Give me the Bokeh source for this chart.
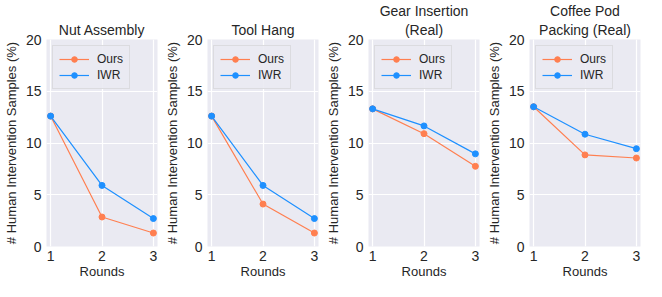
from bokeh.plotting import figure
from bokeh.layouts import row
from bokeh.models import Range1d, FixedTicker, Legend, LegendItem, Title
from bokeh.embed import file_html
from bokeh.resources import INLINE

rounds = [1, 2, 3]
titles = [["", "Nut Assembly"], ["", "Tool Hang"],
          ["Gear Insertion", "(Real)"], ["Coffee Pod", "Packing (Real)"]]
ours = [
    [12.6, 2.85, 1.3],
    [12.6, 4.1, 1.3],
    [13.3, 10.9, 7.75],
    [13.5, 8.85, 8.55],
]
iwr = [
    [12.6, 5.9, 2.7],
    [12.6, 5.9, 2.7],
    [13.3, 11.65, 8.95],
    [13.5, 10.85, 9.45],
]
yticks = [0, 5, 10, 15, 20]

FONT = "Liberation Sans"
TXT = "#262626"
OURS_C = "#FF7F50"
IWR_C = "#1E90FF"

figs = []
for i in range(4):
    p = figure(output_backend="svg", toolbar_location=None,
               width=161, height=281,
               min_border_left=40, min_border_right=4,
               min_border_top=31, min_border_bottom=20,
               x_range=Range1d(0.92, 3.08), y_range=Range1d(0, 20))
    p.background_fill_color = "#EAEAF2"
    p.border_fill_color = "white"
    p.outline_line_color = None
    for k, line in enumerate(reversed(titles[i])):
        if not line:
            continue
        t = Title(text=line, align="center", text_font=FONT,
                  text_font_style="normal", text_font_size="14px",
                  text_color=TXT, offset=0, standoff=0 if k else 3)
        p.add_layout(t, "above")
    for ax in (p.xaxis, p.yaxis):
        ax.axis_line_color = None
        ax.major_tick_line_color = None
        ax.minor_tick_line_color = None
        ax.major_tick_out = 0
        ax.major_tick_in = 0
        ax.minor_tick_out = 0
        ax.minor_tick_in = 0
        ax.major_label_text_font = FONT
        ax.major_label_text_font_size = "14px"
        ax.major_label_text_color = TXT
        ax.axis_label_text_font = FONT
        ax.axis_label_text_font_style = "normal"
        ax.axis_label_text_font_size = "13px"
        ax.axis_label_text_color = TXT
    p.xaxis.ticker = FixedTicker(ticks=rounds)
    p.yaxis.ticker = FixedTicker(ticks=yticks)
    p.xaxis.axis_label = "Rounds"
    p.yaxis.axis_label = "# Human Intervention Samples (%)"
    p.xaxis.axis_label_standoff = 0
    p.yaxis.axis_label_standoff = 4
    p.xaxis.major_label_standoff = 4
    p.yaxis.major_label_standoff = 5
    p.xgrid.grid_line_color = "white"
    p.ygrid.grid_line_color = "white"
    p.xgrid.grid_line_width = 1.2
    p.ygrid.grid_line_width = 1.2

    l1 = p.line(rounds, ours[i], color=OURS_C, line_width=1.2)
    s1 = p.scatter(rounds, ours[i], color=OURS_C, size=6)
    l2 = p.line(rounds, iwr[i], color=IWR_C, line_width=1.2)
    s2 = p.scatter(rounds, iwr[i], color=IWR_C, size=6)
    leg = Legend(items=[LegendItem(label="Ours", renderers=[l1, s1]),
                        LegendItem(label="IWR", renderers=[l2, s2])],
                 location="top_left")
    leg.label_text_font = FONT
    leg.label_text_font_size = "12px"
    leg.label_text_color = TXT
    leg.background_fill_color = "#EAEAF2"
    leg.background_fill_alpha = 0.9
    leg.border_line_color = "#CCCCCC"
    leg.border_line_width = 1
    leg.glyph_width = 30
    leg.glyph_height = 14
    leg.label_height = 14
    leg.spacing = 2
    leg.padding = 6
    leg.margin = 6
    leg.label_standoff = 8
    p.add_layout(leg)
    figs.append(p)

layout = row(*figs, spacing=0)
open("out.html", "w").write(file_html(layout, INLINE))
